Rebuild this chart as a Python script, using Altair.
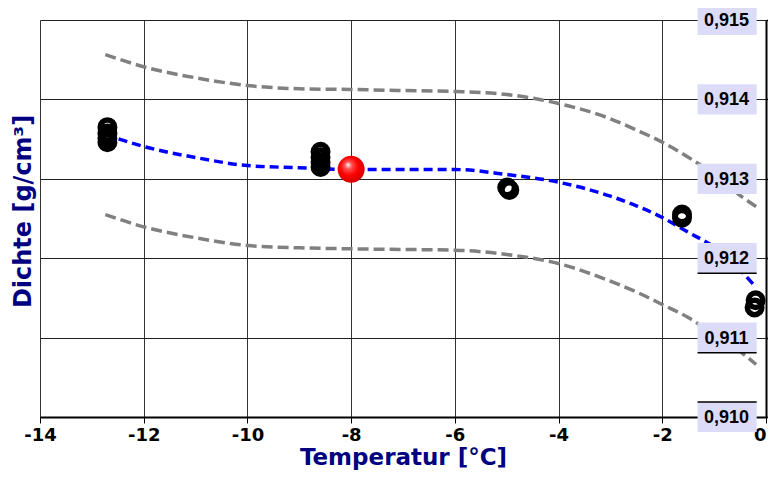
import altair as alt
import pandas as pd

# ---- data ----
x_ticks = [-14, -12, -10, -8, -6, -4, -2, 0]
y_ticks = [0.910, 0.911, 0.912, 0.913, 0.914, 0.915]
y_labels = ["0,910", "0,911", "0,912", "0,913", "0,914", "0,915"]
y_label_edge = ["top", "bottom", "bottom", "none", "none", "top"]

fit_x = [-12.74, -12, -11, -10, -9, -8, -7, -6, -5, -4, -3, -2.5, -2, -1.5, -1, -0.5, -0.19]
fit_mid = [0.913558, 0.913407, 0.913268, 0.913167, 0.913139, 0.913117, 0.913118, 0.913117,
           0.913054, 0.912957, 0.912781, 0.912660, 0.912513, 0.912327, 0.912140, 0.911850, 0.911631]
fit_upper = [0.914565, 0.914411, 0.914272, 0.914175, 0.914134, 0.914125, 0.914112, 0.914100,
             0.914062, 0.913948, 0.913756, 0.913615, 0.913461, 0.913272, 0.913054, 0.912790, 0.912651]
fit_lower = [0.912550, 0.912395, 0.912257, 0.912160, 0.912131, 0.912118, 0.912110, 0.912101,
             0.912047, 0.911933, 0.911710, 0.911575, 0.911417, 0.911253, 0.911039, 0.910825, 0.910661]

meas_T = [-12.70, -12.70, -12.70, -12.70, -8.59, -8.59, -8.59, -8.59,
          -4.99, -4.95, -1.62, -1.62, -0.20, -0.22]
meas_rho = [0.91365, 0.91357, 0.91351, 0.91346, 0.91334, 0.91327, 0.91321, 0.91315,
            0.91289, 0.91286, 0.91255, 0.91251, 0.91147, 0.91138]

ref_T = [-8.0]
ref_rho = [0.91312]

fit = pd.DataFrame({"T": fit_x, "mid": fit_mid, "upper": fit_upper, "lower": fit_lower})
meas = pd.DataFrame({"T": meas_T, "rho": meas_rho})
ref = pd.DataFrame({"T": ref_T, "rho": ref_rho})
ticks = pd.DataFrame({"v": y_ticks, "label": y_labels, "edge": y_label_edge})

BOLD = "DejaVu Sans"
NAVY = "#000080"

xscale = alt.Scale(domain=[-14, 0], nice=False, zero=False)
yscale = alt.Scale(domain=[0.910, 0.915], nice=False, zero=False)

x_enc = alt.X(
    "T:Q", scale=xscale,
    axis=alt.Axis(values=x_ticks, grid=True, gridColor="#333333", gridWidth=1,
                  tickColor="#000000", tickSize=6, tickWidth=1,
                  domainColor="#000000", domainWidth=2,
                  labelFont=BOLD, labelFontWeight="bold", labelFontSize=18,
                  labelColor="#000000", labelPadding=3, labelFlush=False,
                  labelAlign={"condition": {"test": "datum.value == 0", "value": "right"},
                              "value": "center"},
                  labelExpr="'' + datum.value",
                  title="Temperatur [°C]", titleFont=BOLD, titleFontWeight="bold",
                  titleFontSize=23, titleColor=NAVY, titleBaseline="alphabetic",
                  titleY=47),
)

upper = alt.Chart(fit).mark_line(color="#808080", strokeWidth=3.5, strokeDash=[11, 5],
                                 interpolate="monotone").encode(
    x=x_enc,
    y=alt.Y("upper:Q", scale=yscale,
            axis=alt.Axis(orient="left", values=y_ticks, grid=True, gridColor="#222222",
                          gridWidth=1, labels=False, ticks=False, domain=False,
                          title="Dichte [g/cm³]", titleFont=BOLD, titleFontWeight="bold",
                          titleFontSize=24, titleColor=NAVY, titlePadding=5,
                          titleY=191)),
)

lower = alt.Chart(fit).mark_line(color="#808080", strokeWidth=3.5, strokeDash=[11, 5],
                                 interpolate="monotone").encode(
    x=alt.X("T:Q", scale=xscale),
    y=alt.Y("lower:Q", scale=yscale, axis=None),
)

mid = alt.Chart(fit).mark_line(color="#0000ff", strokeWidth=3.5, strokeDash=[9, 5],
                               interpolate="monotone").encode(
    x=alt.X("T:Q", scale=xscale),
    y=alt.Y("mid:Q", scale=yscale,
            axis=alt.Axis(orient="right", values=y_ticks, grid=False, labels=False,
                          ticks=True, tickSize=6, tickColor="#000000", tickWidth=1.5,
                          domain=True, domainColor="#000000", domainWidth=2, title=None)),
)

points = alt.Chart(meas).mark_point(shape="circle", filled=False, size=210, strokeWidth=5.5,
                                    color="#000000", opacity=1).encode(
    x=alt.X("T:Q", scale=xscale),
    y=alt.Y("rho:Q", scale=yscale, axis=None),
)

sphere_fill = alt.RadialGradient(
    gradient="radial",
    stops=[alt.GradientStop(color="#ffffff", offset=0),
           alt.GradientStop(color="#ff5050", offset=0.22),
           alt.GradientStop(color="#ff0000", offset=0.55),
           alt.GradientStop(color="#c80000", offset=1)],
    x1=0.38, y1=0.33, r1=0, x2=0.45, y2=0.45, r2=0.62,
)
sphere = alt.Chart(ref).mark_point(shape="circle", filled=True, size=729, fill=sphere_fill,
                                   strokeWidth=0, opacity=1).encode(
    x=alt.X("T:Q", scale=xscale),
    y=alt.Y("rho:Q", scale=yscale, axis=None),
)

boxes = alt.Chart(ticks).transform_calculate(
    lo="datum.v - 0.00019", hi="datum.v + 0.00019"
).mark_rect(color="#dcdcf8").encode(
    x=alt.datum(-1.32, scale=xscale), x2=alt.datum(-0.18),
    y=alt.Y("lo:Q", scale=yscale, axis=None), y2="hi:Q",
)

edges = alt.Chart(ticks).transform_filter("datum.edge != 'none'").transform_calculate(
    ey="datum.edge == 'top' ? datum.v + 0.00019 : datum.v - 0.00019"
).mark_rule(color="#000000", strokeWidth=1.5).encode(
    x=alt.datum(-1.32, scale=xscale), x2=alt.datum(-0.18),
    y=alt.Y("ey:Q", scale=yscale, axis=None),
)

labels = alt.Chart(ticks).mark_text(font="Liberation Sans", fontWeight="bold", fontSize=18,
                                    color="#000000", align="center", baseline="middle",
                                    dy=1).encode(
    x=alt.datum(-0.76, scale=xscale),
    y=alt.Y("v:Q", scale=yscale, axis=None),
    text="label:N",
)

chart = alt.layer(upper, lower, mid, points, sphere, boxes, edges, labels).resolve_axis(
    y="independent"
).properties(
    width=726, height=397,
    autosize=alt.AutoSizeParams(type="none"),
    padding={"left": 32, "top": 12, "right": 2, "bottom": 54},
    background="white",
).configure_view(stroke=None)

chart.save("out.html", embed_options={"renderer": "svg", "actions": False})
